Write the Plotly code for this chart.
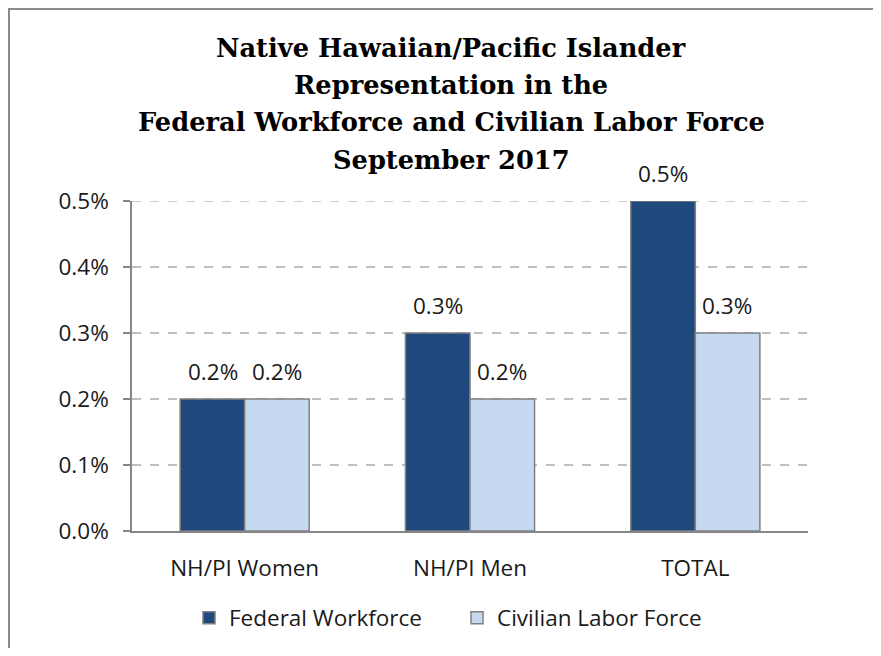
import plotly.graph_objects as go

categories = ["NH/PI Women", "NH/PI Men", "TOTAL"]
federal = [0.002, 0.003, 0.005]
civilian = [0.002, 0.002, 0.003]
series_names = ["Federal Workforce", "Civilian Labor Force"]
title_lines = [
    "Native Hawaiian/Pacific Islander",
    "Representation in the",
    "Federal Workforce and Civilian Labor Force",
    "September 2017",
]
tick_vals = [0, 0.001, 0.002, 0.003, 0.004, 0.005]

# page body adds an 8px margin; target pixel positions are given in screen coords
OFF = 8
W, H = 881 - 2 * OFF, 656 - 2 * OFF
L, R = 132 - OFF, (W + OFF) - 808
T, B = 201 - OFF, (H + OFF) - 531
PW, PH = W - L - R, H - T - B

def py(pix):
    return (H - B - (pix - OFF)) / PH

def px(pix):
    return ((pix - OFF) - L) / PW

dark = "#1F497D"
light = "#C6D9F1"
edge = "#808080"
grid = "#C0C0C0"
sans = "Open Sans"
fs = 22.5

fig = go.Figure()
fig.add_trace(go.Bar(x=categories, y=federal, name=series_names[0],
                     marker=dict(color=dark, line=dict(color=edge, width=1.5))))
fig.add_trace(go.Bar(x=categories, y=civilian, name=series_names[1],
                     marker=dict(color=light, line=dict(color=edge, width=1.5))))

annotations = []
ys = [48, 85, 122, 160]
for line, yy in zip(title_lines, ys):
    annotations.append(dict(text="<b>" + line + "</b>", xref="paper", yref="paper",
                            x=px(451), y=py(yy), xanchor="center", yanchor="middle",
                            showarrow=False,
                            font=dict(family="DejaVu Serif", size=25.7, color="#000000")))
for vals, shift in ((federal, -32), (civilian, 32)):
    for c, v in zip(categories, vals):
        annotations.append(dict(text=f"{v*100:.1f}%", x=c, y=v, xref="x", yref="y",
                                xshift=shift, yshift=10, yanchor="bottom",
                                showarrow=False,
                                font=dict(family=sans, size=fs, color="#1a1a1a")))

fx0, fy_top, fy_bot, fx1 = px(9), py(9), py(H + OFF), px(W + OFF)
shapes = [
    # chart frame: left and top edges only (open path)
    dict(type="path", xref="paper", yref="paper",
         path=f"M {fx0},{fy_bot} L {fx0},{fy_top} L {fx1},{fy_top}",
         line=dict(color="#8a8a8a", width=2)),
    # top gridline (plotly drops the one on the plot edge)
    dict(type="line", xref="paper", yref="y", x0=0, x1=1, y0=tick_vals[-1], y1=tick_vals[-1],
         line=dict(color=grid, width=1.5, dash="dash"), layer="below"),
]

fig.update_layout(
    width=W, height=H,
    margin=dict(l=L, r=R, t=T, b=B, autoexpand=False),
    paper_bgcolor="white", plot_bgcolor="white",
    barmode="group", bargap=0.427, bargroupgap=0,
    showlegend=True,
    legend=dict(orientation="h", x=px(457), y=py(618), xanchor="center", yanchor="middle",
                font=dict(family=sans, size=fs, color="#1a1a1a"),
                itemwidth=30, entrywidth=223, entrywidthmode="pixels"),
    annotations=annotations,
    shapes=shapes,
    font=dict(family=sans, color="#1a1a1a"),
)
fig.update_yaxes(range=[0, 0.005], tickvals=tick_vals, tickformat=".1%",
                 showgrid=True, gridcolor=grid, griddash="dash", gridwidth=1.5,
                 showline=True, linecolor="#868686", linewidth=1.5,
                 ticks="outside", ticklen=7, tickcolor="#868686", tickwidth=1.5,
                 tickfont=dict(family=sans, size=fs, color="#1a1a1a"),
                 ticklabelstandoff=10, zeroline=False)
fig.update_xaxes(showline=True, linecolor="#868686", linewidth=1.5, ticks="",
                 tickfont=dict(family=sans, size=fs, color="#1a1a1a"),
                 ticklabelstandoff=16)

fig.write_html("out.html")
